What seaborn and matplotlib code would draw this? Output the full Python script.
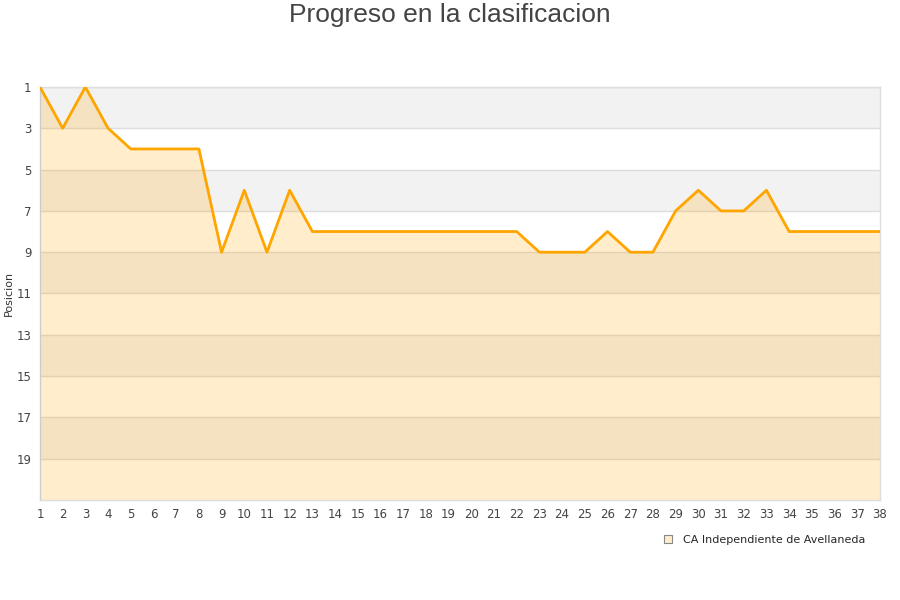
import matplotlib
matplotlib.use("Agg")
import matplotlib.pyplot as plt
import seaborn as sns
import pandas as pd
from matplotlib.patches import Patch

jornadas = list(range(1, 39))
posiciones = [1, 3, 1, 3, 4, 4, 4, 4, 9, 6,
              9, 6, 8, 8, 8, 8, 8, 8, 8, 8,
              8, 8, 9, 9, 9, 8, 9, 9, 7, 6,
              7, 7, 6, 8, 8, 8, 8, 8]
equipo = "CA Independiente de Avellaneda"
yticks = list(range(1, 21, 2))

df = pd.DataFrame({"Jornada": jornadas, "Posicion": posiciones})

sns.set_style("white")
fig = plt.figure(figsize=(9, 6), dpi=100)
ax = fig.add_axes([0.0444, 0.1667, 0.9333, 0.6883])

# bandas alternas
for i, y0 in enumerate(range(1, 21, 2)):
    if i % 2 == 0:
        ax.axhspan(y0, y0 + 2, color="#f2f2f2", zorder=0, lw=0)
for y in yticks:
    ax.axhline(y, color="#dddddd", lw=1, zorder=1)

ax.fill_between(df["Jornada"], df["Posicion"], 21, color="orange", alpha=0.2, lw=0, zorder=2)
sns.lineplot(data=df, x="Jornada", y="Posicion", color="orange", lw=2, ax=ax, zorder=3)

ax.set_xlim(1, 38)
ax.set_ylim(21, 1)
ax.set_xticks(jornadas)
ax.set_yticks(yticks)
ax.tick_params(axis="both", labelsize=8.5, colors="#444444", length=0, pad=6)
ax.set_xlabel("")
ax.set_ylabel("Posicion", fontsize=8, color="#333333", labelpad=2)
for s in ax.spines.values():
    s.set_color("#dddddd")
    s.set_linewidth(1)
ax.spines["left"].set_color("#cccccc")

fig.suptitle("Progreso en la clasificacion", fontsize=19, color="#444444", y=0.995,
             family=["Liberation Sans", "DejaVu Sans"])

handle = Patch(facecolor="#ffedcc", edgecolor="#888888", lw=0.8)
fig.legend([handle], [equipo], loc="upper right", bbox_to_anchor=(0.973, 0.125),
           frameon=False, fontsize=8, handlelength=0.7, handleheight=0.7, handletextpad=1.0)

fig.savefig("out.png", dpi=100)
